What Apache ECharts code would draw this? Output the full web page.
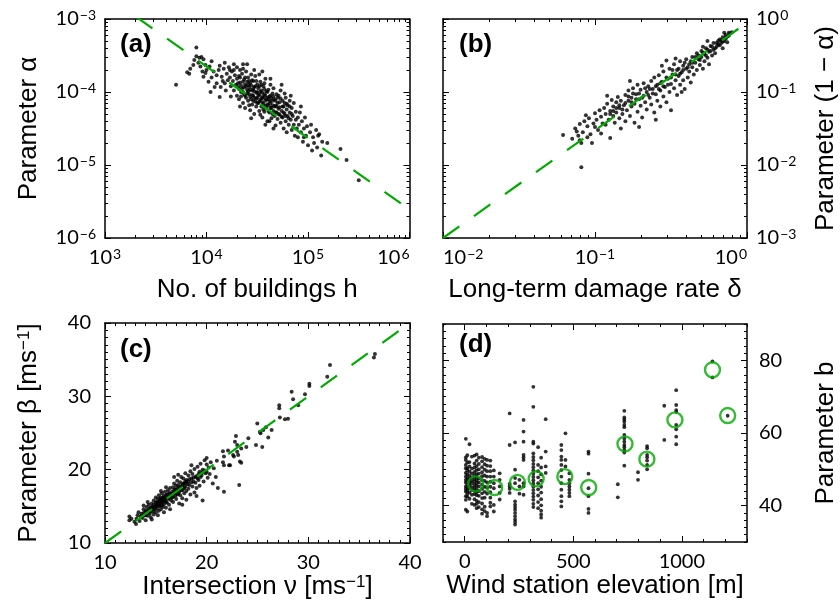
<!DOCTYPE html>
<html>
<head>
<meta charset="utf-8">
<script src="https://cdn.jsdelivr.net/npm/echarts@6/dist/echarts.min.js"></script>
<style>
  html, body { margin: 0; padding: 0; background: #fff; }
  #chart { width: 840px; height: 612px; }
</style>
</head>
<body>
<div id="chart"></div>
<script>
// ---------- data ----------
// (a) log10(number of buildings h), log10(parameter alpha)
const buildingsVsAlphaLog = [
  [3.70,-3.90],[3.90,-3.39],[3.81,-3.73],[3.83,-3.75],[3.84,-3.68],[3.87,-3.63],[3.90,-3.51],[3.93,-3.53],
  [3.95,-3.52],[3.97,-3.55],[3.99,-3.63],[3.94,-3.65],[3.96,-3.72],[3.99,-3.74],[4.00,-3.70],[3.97,-3.79],
  [4.03,-3.65],[4.07,-3.72],[4.10,-3.77],[4.13,-3.64],[4.15,-3.79],[4.14,-3.93],[4.04,-4.00],[4.08,-3.93],
  [4.13,-4.07],[4.18,-3.88],[4.20,-3.75],[4.23,-3.70],[4.21,-3.84],[4.02,-3.86],[3.92,-3.60],[3.88,-3.56],
  [4.05,-3.58],[4.05,-3.80],[4.10,-3.88],[4.12,-3.70],[4.16,-3.85],[4.18,-3.60],[4.19,-3.98],[4.17,-3.68],
  [4.36,-3.62],[4.40,-3.62],[4.33,-3.70],[4.27,-3.70],[4.30,-3.66],
  [4.22,-3.66],[4.23,-3.80],[4.24,-3.92],[4.25,-3.72],[4.26,-3.85],[4.27,-3.98],[4.28,-3.77],[4.29,-3.90],
  [4.30,-4.05],[4.30,-3.82],[4.24,-4.06],[4.27,-3.62],
  [4.31,-3.93],[4.32,-3.78],[4.32,-4.10],[4.33,-3.87],[4.34,-4.00],[4.35,-3.75],[4.35,-3.95],[4.36,-4.15],
  [4.37,-3.83],[4.37,-4.03],[4.38,-3.90],[4.38,-4.22],[4.39,-3.72],[4.39,-4.08],[4.40,-3.97],[4.40,-3.86],
  [4.33,-4.20],[4.36,-3.68],
  [4.41,-4.12],[4.41,-3.80],[4.42,-3.93],[4.42,-4.03],[4.43,-4.25],[4.43,-3.88],[4.44,-3.76],[4.44,-4.10],
  [4.45,-3.98],[4.45,-4.17],[4.46,-3.85],[4.46,-4.05],[4.47,-3.93],[4.47,-4.30],[4.48,-4.13],[4.48,-3.78],
  [4.49,-4.01],[4.49,-4.20],[4.50,-3.90],[4.50,-4.08],[4.44,-4.36],[4.47,-3.70],[4.42,-4.18],[4.46,-3.96],
  [4.51,-4.15],[4.51,-3.95],[4.52,-4.04],[4.52,-4.26],[4.53,-3.86],[4.53,-4.11],[4.54,-4.20],[4.54,-3.98],
  [4.55,-4.07],[4.55,-4.35],[4.56,-3.92],[4.56,-4.16],[4.57,-4.03],[4.57,-4.27],[4.58,-3.82],[4.58,-4.12],
  [4.59,-4.22],[4.59,-3.99],[4.60,-4.08],[4.60,-4.40],[4.52,-3.76],[4.55,-3.72],[4.57,-3.88],[4.53,-4.31],
  [4.58,-4.45],
  [4.61,-4.18],[4.61,-3.97],[4.62,-4.28],[4.62,-4.06],[4.63,-3.90],[4.63,-4.15],[4.64,-4.36],[4.64,-4.22],
  [4.65,-4.02],[4.65,-4.12],[4.66,-4.26],[4.66,-3.95],[4.67,-4.33],[4.67,-4.10],[4.68,-4.19],[4.68,-4.46],
  [4.69,-4.03],[4.69,-4.28],[4.70,-4.15],[4.70,-4.37],[4.63,-3.82],[4.66,-4.50],[4.62,-4.40],
  [4.71,-4.23],[4.71,-4.05],[4.72,-4.31],[4.72,-4.14],[4.73,-4.42],[4.73,-3.98],[4.74,-4.26],[4.75,-4.35],
  [4.75,-4.12],[4.76,-4.20],[4.76,-4.50],[4.77,-4.30],[4.78,-4.40],[4.78,-4.08],[4.79,-4.24],[4.79,-4.55],
  [4.80,-4.33],[4.80,-4.18],[4.74,-3.90],[4.77,-4.02],
  [4.81,-4.45],[4.82,-4.28],[4.82,-4.12],[4.83,-4.38],[4.84,-4.52],[4.84,-4.22],[4.85,-4.33],[4.86,-4.45],
  [4.86,-4.15],[4.87,-4.60],[4.88,-4.38],[4.88,-4.27],[4.89,-4.50],[4.90,-4.35],[4.90,-4.62],[4.83,-4.05],
  [4.91,-4.45],[4.92,-4.28],[4.93,-4.55],[4.94,-4.40],[4.95,-4.68],[4.96,-4.50],[4.97,-4.35],[4.98,-4.60],
  [4.99,-4.47],[5.00,-4.73],[4.93,-4.20],[4.96,-4.62],
  [5.02,-4.55],[5.03,-4.45],[5.05,-4.62],[5.06,-4.70],[5.08,-4.52],[5.10,-4.60],[5.11,-4.58],[5.13,-4.87],
  [5.14,-4.68],[5.04,-4.80],[5.09,-4.76],[5.19,-4.70],
  [5.32,-4.78],[5.38,-4.93],[5.50,-5.21],
  [4.31,-3.88],[4.32,-3.96],[4.33,-3.80],[4.34,-3.91],[4.34,-4.06],[4.36,-3.86],[4.36,-4.00],[4.37,-3.94],
  [4.38,-3.80],[4.38,-4.05],[4.39,-3.92],[4.40,-4.02],[4.41,-3.90],[4.41,-3.99],[4.42,-3.85],[4.43,-4.07],
  [4.43,-3.97],[4.44,-3.91],[4.45,-4.04],[4.45,-3.84],[4.46,-4.12],[4.47,-3.99],[4.47,-4.08],[4.48,-3.92],
  [4.49,-4.09],[4.49,-3.85],[4.50,-4.00],[4.50,-4.15],[4.51,-4.04],[4.52,-3.92],[4.52,-4.13],[4.53,-4.00],
  [4.54,-4.09],[4.54,-3.90],[4.55,-4.14],[4.55,-4.01],[4.56,-4.08],[4.56,-4.24],[4.57,-3.96],[4.58,-4.05],
  [4.58,-4.19],[4.59,-4.10],[4.60,-4.00],[4.60,-4.17],[4.61,-4.10],[4.61,-4.26],[4.62,-4.13],[4.63,-4.05],
  [4.63,-4.22],[4.64,-4.09],[4.65,-4.18],[4.65,-4.30],[4.66,-4.06],[4.67,-4.20],[4.68,-4.12],[4.68,-4.28],
  [4.69,-4.20],[4.70,-4.08],[4.71,-4.30],[4.72,-4.21],[4.73,-4.09],[4.74,-4.34],[4.75,-4.20],[4.76,-4.28],
  [4.77,-4.15],[4.78,-4.33],[4.79,-4.16],[4.81,-4.36],[4.82,-4.20],[4.84,-4.30]
];
// (a) fitted power law, log10 endpoints
const buildingsFitLog = [[3.0,-2.67],[6.0,-5.61]];

// (b) log10(long-term damage rate delta), log10(1 - alpha)
const damageVsOneMinusAlphaLog = [
  [-1.21,-1.59],[-1.15,-1.64],[-1.12,-1.54],[-1.10,-1.44],[-1.09,-1.70],[-1.09,-2.03],[-1.02,-1.70],[-1.13,-1.50],
  [-1.11,-1.60],[-1.08,-1.55],[-1.07,-1.40],[-1.06,-1.32],[-1.05,-1.47],[-1.04,-1.36],[-1.03,-1.58],[-1.01,-1.43],
  [-1.00,-1.29],[-0.99,-1.38],[-0.98,-1.52],[-0.97,-1.25],[-0.96,-1.57],[-0.96,-1.34],[-0.95,-1.43],[-1.05,-1.62],
  [-1.10,-1.66],[-1.00,-1.48],
  [-0.94,-1.22],[-0.93,-1.30],[-0.93,-1.45],[-0.92,-1.16],[-0.91,-1.38],[-0.90,-1.63],[-0.90,-1.26],[-0.89,-1.11],
  [-0.88,-1.33],[-0.88,-1.20],[-0.87,-1.42],[-0.86,-1.14],[-0.86,-1.28],[-0.85,-1.07],[-0.84,-1.36],[-0.84,-1.22],
  [-0.83,-1.50],[-0.83,-1.12],[-0.82,-1.30],[-0.81,-1.18],[-0.80,-1.04],[-0.80,-1.40],[-0.92,-1.05],
  [-0.79,-1.25],[-0.78,-1.12],[-0.78,-0.98],[-0.77,-1.33],[-0.76,-1.08],[-0.76,-1.20],[-0.75,-0.95],[-0.74,-1.16],
  [-0.74,-1.42],[-0.73,-1.03],[-0.72,-1.27],[-0.72,-0.90],[-0.71,-1.10],[-0.70,-1.19],[-0.70,-0.97],[-0.69,-1.35],
  [-0.68,-1.05],[-0.68,-0.88],[-0.67,-1.14],[-0.66,-1.00],[-0.66,-1.24],[-0.65,-0.92],[-0.71,-1.48],[-0.77,-0.85],
  [-0.64,-1.08],[-0.63,-0.85],[-0.63,-1.17],[-0.62,-0.96],[-0.61,-1.28],[-0.61,-0.80],[-0.60,-1.03],[-0.59,-0.90],
  [-0.59,-1.12],[-0.58,-0.77],[-0.57,-0.98],[-0.57,-1.20],[-0.56,-0.86],[-0.55,-1.06],[-0.55,-0.72],[-0.54,-0.93],
  [-0.53,-1.14],[-0.53,-0.57],[-0.52,-0.82],[-0.51,-1.00],[-0.51,-0.68],[-0.50,-0.89],[-0.50,-1.25],[-0.60,-1.38],
  [-0.56,-0.64],
  [-0.49,-0.76],[-0.48,-0.95],[-0.48,-0.62],[-0.47,-0.84],[-0.46,-1.04],[-0.46,-0.70],[-0.45,-0.78],[-0.44,-0.90],
  [-0.44,-0.58],[-0.43,-0.73],[-0.42,-0.84],[-0.42,-0.64],[-0.41,-0.96],[-0.40,-0.68],[-0.40,-0.55],[-0.39,-0.80],
  [-0.38,-0.62],[-0.38,-0.72],[-0.37,-0.87],[-0.36,-0.52],[-0.36,-0.66],[-0.35,-0.76],[-0.43,-1.00],[-0.47,-0.54],
  [-0.34,-0.60],[-0.33,-0.47],[-0.33,-0.70],[-0.32,-0.55],[-0.31,-0.63],[-0.30,-0.44],[-0.30,-0.52],[-0.29,-0.68],
  [-0.28,-0.48],[-0.28,-0.58],[-0.27,-0.40],[-0.26,-0.53],[-0.25,-0.45],[-0.25,-0.62],[-0.24,-0.37],[-0.23,-0.50],
  [-0.22,-0.42],[-0.22,-0.33],[-0.21,-0.47],[-0.20,-0.38],[-0.29,-0.38],[-0.26,-0.30],
  [-0.19,-0.30],[-0.18,-0.36],[-0.18,-0.28],[-0.17,-0.33],[-0.16,-0.25],[-0.16,-0.40],[-0.15,-0.30],[-0.14,-0.22],
  [-0.14,-0.27],[-0.13,-0.24],[-0.12,-0.19],[-0.11,-0.20],[-0.15,-0.19],[-0.13,-0.32],
  [-0.90,-1.30],[-0.88,-1.26],[-0.86,-1.22],[-0.84,-1.18],[-0.82,-1.24],[-0.80,-1.15],[-0.78,-1.06],[-0.76,-1.14],
  [-0.75,-1.02],[-0.73,-1.10],[-0.71,-1.02],[-0.69,-1.08],[-0.67,-0.95],[-0.65,-1.04],[-0.64,-0.96],[-0.62,-1.02],
  [-0.60,-0.92],[-0.58,-0.96],[-0.57,-0.88],[-0.55,-0.92],[-0.53,-0.80],[-0.52,-0.90],[-0.50,-0.80],[-0.49,-0.70],
  [-0.47,-0.76],[-0.45,-0.68],[-0.44,-0.75],[-0.42,-0.70],[-0.41,-0.60],[-0.39,-0.66],[-0.37,-0.58],[-0.36,-0.60],
  [-0.34,-0.52],[-0.32,-0.50],[-0.31,-0.56],[-0.29,-0.46],[-0.27,-0.50],[-0.26,-0.42],[-0.24,-0.44],[-0.23,-0.38],
  [-0.21,-0.40],[-0.20,-0.33],[-0.19,-0.35],[-0.17,-0.29],[-0.16,-0.31],[-0.14,-0.25],[-0.12,-0.23],[-0.10,-0.18]
];
const damageFitLog = [[-2.0,-3.0],[0.0,-0.05]];

// (c) intersection nu [m/s], parameter beta [m/s]
const intersectionVsBeta = [
  [12.4,13.6],[12.4,13.1],[12.9,12.9],[13.1,13.3],[13.2,13.8],[13.05,12.6],[13.4,13.0],[13.5,13.6],[13.3,14.2],[12.6,13.3],
  [13.6,14.0],[13.7,13.4],[13.8,14.6],[13.9,13.8],[14.0,14.3],[14.0,13.1],[14.1,14.9],[14.2,13.7],[14.3,14.5],[14.3,15.2],
  [14.4,14.0],[14.5,14.8],[14.5,13.5],[14.6,15.4],[14.7,14.3],[14.7,14.9],[14.8,15.8],[14.8,13.9],[14.9,14.6],[15.0,15.1],
  [15.0,14.2],[13.8,15.1],[14.2,15.6],[14.6,13.2],[15.0,16.2],
  [15.1,15.6],[15.1,14.7],[15.2,16.0],[15.2,15.2],[15.3,14.4],[15.3,16.5],[15.4,15.7],[15.4,15.0],[15.5,16.2],[15.5,14.6],
  [15.6,15.4],[15.6,16.8],[15.7,15.9],[15.7,14.9],[15.8,16.4],[15.8,15.3],[15.9,17.0],[15.9,15.7],[16.0,16.1],[16.0,14.8],
  [16.1,16.6],[16.1,15.5],[16.2,17.2],[16.2,16.0],[16.3,15.2],[16.3,16.8],[16.4,16.3],[16.4,17.5],[16.5,15.8],[16.5,16.6],
  [15.5,17.1],[16.0,17.6],[15.2,13.8],[15.8,14.2],[16.4,14.6],
  [16.6,17.0],[16.6,16.2],[16.7,17.6],[16.7,15.6],[16.8,16.8],[16.8,18.1],[16.9,16.4],[16.9,17.3],[17.0,17.8],[17.0,16.0],
  [17.1,17.1],[17.1,18.5],[17.2,16.7],[17.2,17.9],[17.3,15.4],[17.3,17.4],[17.4,18.3],[17.4,16.5],[17.5,17.7],[17.5,19.0],
  [17.6,17.2],[17.6,16.1],[17.7,18.1],[17.7,18.8],[17.8,17.5],[17.8,16.8],[17.9,18.4],[17.9,19.5],[18.0,18.6],[18.0,17.1],
  [16.8,19.0],[17.2,19.3],[17.6,15.2],[18.0,15.9],
  [18.1,18.0],[18.2,19.2],[18.2,17.4],[18.3,18.7],[18.4,16.6],[18.4,19.8],[18.5,18.3],[18.6,17.7],[18.6,19.4],[18.7,18.9],
  [18.8,16.9],[18.8,20.1],[18.9,18.2],[19.0,19.1],[19.0,17.5],[19.1,20.4],[19.2,18.6],[19.3,19.7],[19.3,17.8],[19.4,20.8],
  [19.5,19.2],[19.6,15.8],[18.5,20.6],[19.0,16.4],
  [19.6,20.0],[19.7,18.4],[19.8,21.3],[19.9,19.5],[20.0,20.7],[20.0,21.6],[20.1,18.9],[20.2,20.3],[20.3,19.4],[20.4,21.0],
  [20.6,18.1],[20.7,20.2],[20.9,19.0],[21.1,17.5],[21.0,21.2],
  [21.6,22.5],[21.7,21.8],[21.6,21.0],[21.7,20.6],[21.7,17.0],[22.1,22.6],[22.2,20.6],[22.3,20.6],
  [22.68,21.8],[22.78,23.8],[22.88,24.6],[23.0,23.36],[23.0,22.45],[23.1,22.0],[23.27,21.1],[23.4,20.96],[23.4,22.9],
  [23.9,23.1],[23.2,17.9],[22.6,22.0],
  [24.1,24.3],[24.85,23.36],[24.98,26.3],[25.24,25.18],[25.3,24.96],[25.57,25.4],[25.83,25.8],[25.47,23.1],[26.06,24.4],
  [26.39,25.4],[27.14,28.8],[27.14,28.36],[27.2,27.1],[27.7,26.86],[28.0,26.95],[28.36,30.64],[28.5,29.6],[29.0,28.8],
  [29.67,30.3],[30.1,31.7],[30.1,31.4],[31.86,32.68],[32.13,34.27],[36.45,35.3],[36.55,35.77],
  [13.6,13.7],[13.8,14.1],[14.0,13.8],[14.1,14.4],[14.3,14.2],[14.4,14.7],[14.5,14.3],[14.6,14.9],[14.7,14.6],[14.8,15.2],
  [14.9,14.9],[15.0,15.5],[15.1,15.0],[15.2,15.5],[15.3,15.1],[15.4,15.4],[15.4,16.0],[15.5,15.6],[15.6,15.9],[15.6,15.1],
  [15.7,16.2],[15.8,15.7],[15.9,16.2],[16.0,15.6],[16.0,16.5],[16.1,16.2],[16.2,16.5],[16.3,16.1],[16.4,16.7],[16.5,16.2],
  [16.6,16.7],[16.7,16.3],[16.8,17.2],[16.9,16.8],[17.0,17.3],[17.1,16.6],[17.2,17.5],[17.3,17.0],[17.4,17.6],[17.5,17.2],
  [17.6,17.9],[17.7,17.5],[17.8,18.1],[17.9,17.7],[18.0,18.3],[18.2,18.4],[18.3,17.9],[18.5,18.8],[18.7,18.4],[18.9,19.0],
  [19.1,18.8],[19.2,19.4],[19.4,19.0],[19.6,19.6],[19.8,19.9],[20.0,19.7]
];
const intersectionFit = [[10,10],[40,40]];

// (d) wind station elevation [m], parameter b
const elevationVsB = [
  [5,58.4],[5,53.3],[5,52.6],[5,51.2],[5,50.3],[5,49.0],[5,48.0],[5,47.1],[5,46.4],[5,45.3],[5,44.6],[5,43.9],[5,42.6],[5,41.6],[5,38.9],
  [12,53.9],[12,51.9],[12,50.3],[12,49.7],[12,48.6],[12,47.6],[12,46.8],[12,45.9],[12,45.0],[12,44.2],[12,43.3],[12,42.5],[12,38.4],
  [22,56.9],[22,52.0],[22,50.8],[22,49.4],[22,48.2],[22,47.4],[22,46.5],[22,45.6],[22,44.8],[22,43.6],[22,41.9],
  [33,53.5],[33,50.2],[33,48.9],[33,47.8],[33,46.9],[33,46.2],[33,45.1],[33,44.3],[33,43.0],[33,40.5],
  [45,53.8],[45,51.6],[45,50.5],[45,49.3],[45,48.4],[45,47.5],[45,46.7],[45,45.8],[45,45.0],[45,44.1],[45,43.2],[45,41.8],[45,40.2],
  [55,54.1],[55,52.4],[55,50.9],[55,49.8],[55,48.7],[55,47.9],[55,47.0],[55,46.2],[55,45.4],[55,44.5],[55,43.7],[55,42.9],[55,41.3],[55,40.5],[55,39.3],
  [65,53.2],[65,51.5],[65,50.0],[65,48.8],[65,47.5],[65,46.4],[65,45.3],[65,44.0],[65,42.7],[65,41.0],[65,39.6],
  [80,53.4],[80,52.2],[80,50.6],[80,49.2],[80,48.1],[80,47.0],[80,45.8],[80,44.6],[80,43.4],[80,42.1],[80,40.6],[80,39.0],[80,37.8],
  [92,52.9],[92,51.4],[92,49.9],[92,48.3],[92,46.8],[92,45.2],[92,43.8],[92,42.2],[92,39.7],[92,38.5],
  [103,52.6],[103,51.0],[103,49.5],[103,48.0],[103,46.4],[103,44.9],[103,43.3],[103,38.0],[103,37.1],
  [118,52.4],[118,50.9],[118,49.5],[118,48.0],[118,46.6],[118,45.2],[118,43.7],[118,42.2],[118,40.8],[118,39.8],
  [134,49.7],[134,48.0],[134,46.2],[134,44.8],[134,40.2],[134,38.4],
  [161,48.9],[161,47.1],[161,45.3],[161,43.5],[161,41.7],
  [207,65.4],[207,56.7],[207,46.0],[207,45.3],[207,44.6],[207,43.5],
  [232,57.4],[232,49.9],[232,47.6],[232,46.2],[232,41.2],[232,40.3],[232,39.6],[232,38.9],[232,38.0],[232,37.1],[232,36.2],[232,35.5],[232,34.8],
  [252,47.1],[252,45.3],[252,43.3],
  [271,63.6],[271,60.4],[271,57.6],[271,54.0],[271,53.3],[271,52.6],[271,46.2],[271,45.3],[271,43.0],
  [316,72.7],[316,67.2],[316,57.6],[316,57.1],[316,54.4],[316,53.4],[316,52.5],[316,51.5],[316,50.6],[316,49.7],[316,48.8],
  [316,47.9],[316,47.0],[316,46.1],[316,45.2],[316,44.3],[316,43.4],[316,42.5],[316,41.6],[316,40.5],[316,39.6],
  [338,56.1],[338,51.2],[338,49.5],[338,47.8],[338,46.2],[338,44.5],[338,42.8],[338,41.0],[338,39.3],
  [352,53.2],[352,50.5],[352,48.6],[352,46.9],[352,45.2],[352,43.6],[352,41.8],[352,40.1],[352,38.6],[352,37.6],[352,36.7],
  [373,63.8],[373,54.9],[373,50.8],[373,49.0],
  [445,56.7],[445,55.3],[445,53.5],[445,52.6],[445,51.2],[445,49.8],[445,48.0],[445,46.2],[445,44.4],[445,42.6],[445,41.2],[445,39.8],
  [464,59.9],[464,52.6],[464,50.8],
  [482,48.9],[482,47.1],[482,46.2],[482,45.3],[482,44.4],[482,43.5],[482,42.6],
  [570,54.9],[570,54.3],[570,48.8],[570,44.8],[570,42.6],[570,39.1],[570,38.0],
  [705,45.9],[705,42.3],
  [735,66.1],[735,64.3],[735,63.7],[735,63.1],[735,62.2],[735,61.6],[735,59.5],[735,58.5],[735,57.6],[735,56.7],[735,56.1],[735,55.3],[735,54.6],[735,51.0],
  [798,49.2],[798,47.1],
  [840,56.4],[840,55.8],[840,54.0],[840,53.3],[840,52.4],[840,51.2],[840,50.0],
  [919,67.5],[919,58.1],
  [974,71.8],[974,67.7],[974,66.3],[974,65.8],[974,62.2],[974,61.0],[974,59.0],[974,56.9],
  [1141,79.7],[1141,75.3],
  [1211,64.75]
];
// (d) station-group means
const meanElevation = [50, 138, 243, 329, 461, 571, 738, 839, 968, 1141, 1211];
const meanB = [46.0, 45.0, 46.4, 47.4, 48.0, 45.0, 57.0, 52.8, 63.6, 77.4, 64.8];

// tick label lists
const ticksC = [10, 20, 30, 40];
const ticksDx = [0, 500, 1000];
const ticksDy = [40, 60, 80];

// ---------- styling / layout ----------
const GREEN = '#00aa00';
const TICK_FONT = 'Lato, "DejaVu Sans", sans-serif';
const NAME_FONT = '"Liberation Sans", Arial, sans-serif';
const NAME_SIZE = 26;

const grids = [
  { left: 105, top: 19,  width: 304.5, height: 219 },
  { left: 443, top: 19,  width: 305,   height: 219 },
  { left: 105, top: 323, width: 305,   height: 220 },
  { left: 443, top: 324, width: 305,   height: 218 }
];

const fromLog = pts => pts.map(p => [Math.pow(10, p[0]), Math.pow(10, p[1])]);

// minor tick positions of a log axis, in decade units
function logMinor(d0, d1) {
  const out = [];
  for (let d = d0; d < d1; d++) for (let k = 2; k <= 9; k++) out.push(d + Math.log10(k));
  return out;
}
function linMinor(min, max, step, skipEvery) {
  const out = [];
  for (let v = min; v <= max + 1e-9; v += step) {
    const r = Math.round(v * 1000) / 1000;
    if (Math.abs(r % skipEvery) > 1e-6) out.push(r);
  }
  return out;
}
function range(a, b) { const o = []; for (let i = a; i <= b; i++) o.push(i); return o; }

const powRich = {
  m: { fontSize: 20, fontFamily: TICK_FONT, color: '#000', lineHeight: 22 },
  e: { fontSize: 14, fontFamily: TICK_FONT, color: '#000', verticalAlign: 'top', lineHeight: 13, padding: [0, 0, 0, 1] }
};
function powLabel(v) {
  const e = Math.round(Math.log10(v));
  return '{m|10}{e|' + (e < 0 ? '\u2212' + (-e) : String(e)) + '}';
}
const nameStyle = {
  fontFamily: NAME_FONT, fontSize: NAME_SIZE, color: '#000',
  rich: {
    t: { fontFamily: NAME_FONT, fontSize: NAME_SIZE, color: '#000' },
    s: { fontFamily: NAME_FONT, fontSize: 17, color: '#000', verticalAlign: 'top', lineHeight: 16 }
  }
};
const tickLabel = { color: '#000', fontFamily: TICK_FONT, fontSize: 20, formatter: v => String(v) };

const xAxes = [], yAxes = [];
const axisLineStyle = { color: '#000', width: 1.5 };

function mainAxis(list, o) {
  list.push(Object.assign({
    offset: 0,
    axisLine: { show: true, onZero: false, lineStyle: axisLineStyle },
    axisTick: { show: true, inside: true, length: 6, lineStyle: { color: '#000', width: 1 } },
    splitLine: { show: false },
    nameLocation: 'middle',
    nameTextStyle: nameStyle
  }, o));
  return list.length - 1;
}
// frame sides and minor ticks
function tickAxis(list, grid, pos, min, max, values, len, showLine) {
  list.push({
    type: 'value', gridIndex: grid, position: pos, min: min, max: max, offset: 0, silent: true,
    axisLine: { show: showLine, onZero: false, lineStyle: axisLineStyle },
    axisTick: { show: true, inside: true, length: len, customValues: values, lineStyle: { color: '#000', width: 1 } },
    axisLabel: { show: false },
    splitLine: { show: false }
  });
}

// ----- panel (a) -----
const xa = mainAxis(xAxes, {
  type: 'log', logBase: 10, gridIndex: 0, position: 'bottom', min: 1e3, max: 1e6,
  axisLabel: { formatter: powLabel, rich: powRich, margin: 9, alignMinLabel: 'left', alignMaxLabel: 'right' },
  name: 'No. of buildings h', nameGap: 39
});
tickAxis(xAxes, 0, 'bottom', 3, 6, logMinor(3, 6), 3, false);
tickAxis(xAxes, 0, 'top', 3, 6, range(3, 6), 6, true);
tickAxis(xAxes, 0, 'top', 3, 6, logMinor(3, 6), 3, false);
const ya = mainAxis(yAxes, {
  type: 'log', logBase: 10, gridIndex: 0, position: 'left', min: 1e-6, max: 1e-3,
  axisLabel: { formatter: powLabel, rich: powRich, margin: 9 },
  name: 'Parameter \u03b1', nameGap: 63, nameRotate: 90
});
tickAxis(yAxes, 0, 'left', -6, -3, logMinor(-6, -3), 3, false);
tickAxis(yAxes, 0, 'right', -6, -3, range(-6, -3), 6, true);
tickAxis(yAxes, 0, 'right', -6, -3, logMinor(-6, -3), 3, false);

// ----- panel (b) -----
const xb = mainAxis(xAxes, {
  type: 'log', logBase: 10, gridIndex: 1, position: 'bottom', min: 0.01, max: 1,
  axisLabel: { formatter: powLabel, rich: powRich, margin: 9, alignMinLabel: 'left', alignMaxLabel: 'right' },
  name: 'Long-term damage rate \u03b4', nameGap: 39
});
tickAxis(xAxes, 1, 'bottom', -2, 0, logMinor(-2, 0), 3, false);
tickAxis(xAxes, 1, 'top', -2, 0, range(-2, 0), 6, true);
tickAxis(xAxes, 1, 'top', -2, 0, logMinor(-2, 0), 3, false);
const yb = mainAxis(yAxes, {
  type: 'log', logBase: 10, gridIndex: 1, position: 'right', min: 0.001, max: 1,
  axisLabel: { formatter: powLabel, rich: powRich, margin: 9 },
  name: 'Parameter (1 \u2212 \u03b1)', nameGap: 66, nameRotate: 90
});
tickAxis(yAxes, 1, 'right', -3, 0, logMinor(-3, 0), 3, false);
tickAxis(yAxes, 1, 'left', -3, 0, range(-3, 0), 6, true);
tickAxis(yAxes, 1, 'left', -3, 0, logMinor(-3, 0), 3, false);

// ----- panel (c) -----
const xc = mainAxis(xAxes, {
  type: 'value', gridIndex: 2, position: 'bottom', min: 10, max: 40, interval: 10,
  axisLabel: Object.assign({ margin: 10 }, tickLabel),
  name: '{t|Intersection \u03bd [ms}{s|\u22121}{t|]}', nameGap: 31
});
tickAxis(xAxes, 2, 'bottom', 10, 40, linMinor(10, 40, 1, 10), 3, false);
tickAxis(xAxes, 2, 'top', 10, 40, ticksC, 6, true);
tickAxis(xAxes, 2, 'top', 10, 40, linMinor(10, 40, 1, 10), 3, false);
const yc = mainAxis(yAxes, {
  type: 'value', gridIndex: 2, position: 'left', min: 10, max: 40, interval: 10,
  axisLabel: Object.assign({ margin: 14 }, tickLabel),
  name: '{t|Parameter \u03b2 [ms}{s|\u22121}{t|]}', nameGap: 63, nameRotate: 90
});
tickAxis(yAxes, 2, 'left', 10, 40, linMinor(10, 40, 1, 10), 3, false);
tickAxis(yAxes, 2, 'right', 10, 40, ticksC, 6, true);
tickAxis(yAxes, 2, 'right', 10, 40, linMinor(10, 40, 1, 10), 3, false);

// ----- panel (d) -----
const xd = mainAxis(xAxes, {
  type: 'value', gridIndex: 3, position: 'bottom', min: -100, max: 1300,
  axisTick: { show: true, inside: true, length: 6, customValues: ticksDx, lineStyle: { color: '#000', width: 1 } },
  axisLabel: Object.assign({ margin: 10, customValues: ticksDx }, tickLabel),
  name: 'Wind station elevation [m]', nameGap: 31
});
tickAxis(xAxes, 3, 'bottom', -100, 1300, linMinor(-100, 1300, 100, 500), 3, false);
tickAxis(xAxes, 3, 'top', -100, 1300, ticksDx, 6, true);
tickAxis(xAxes, 3, 'top', -100, 1300, linMinor(-100, 1300, 100, 500), 3, false);
const yd = mainAxis(yAxes, {
  type: 'value', gridIndex: 3, position: 'right', min: 30, max: 90,
  axisTick: { show: true, inside: true, length: 6, customValues: ticksDy, lineStyle: { color: '#000', width: 1 } },
  axisLabel: Object.assign({ margin: 12, customValues: ticksDy }, tickLabel),
  name: 'Parameter b', nameGap: 66, nameRotate: 90
});
tickAxis(yAxes, 3, 'right', 30, 90, linMinor(30, 90, 2, 20), 3, false);
tickAxis(yAxes, 3, 'left', 30, 90, ticksDy, 6, true);
tickAxis(yAxes, 3, 'left', 30, 90, linMinor(30, 90, 2, 20), 3, false);

// ---------- series ----------
const dotStyle = { color: '#000' };
const fitLine = { color: GREEN, width: 2.2, type: [20, 18] };
const DOT = 4;

const series = [
  { type: 'scatter', xAxisIndex: xa, yAxisIndex: ya, data: fromLog(buildingsVsAlphaLog), symbolSize: DOT, itemStyle: dotStyle, silent: true },
  { type: 'line', xAxisIndex: xa, yAxisIndex: ya, data: fromLog(buildingsFitLog), symbol: 'none', lineStyle: fitLine, z: 5, silent: true },

  { type: 'scatter', xAxisIndex: xb, yAxisIndex: yb, data: fromLog(damageVsOneMinusAlphaLog), symbolSize: DOT, itemStyle: dotStyle, silent: true },
  { type: 'line', xAxisIndex: xb, yAxisIndex: yb, data: fromLog(damageFitLog), symbol: 'none', lineStyle: fitLine, z: 5, silent: true },

  { type: 'scatter', xAxisIndex: xc, yAxisIndex: yc, data: intersectionVsBeta, symbolSize: DOT, itemStyle: dotStyle, silent: true },
  { type: 'line', xAxisIndex: xc, yAxisIndex: yc, data: intersectionFit, symbol: 'none', lineStyle: fitLine, z: 5, silent: true },

  { type: 'scatter', xAxisIndex: xd, yAxisIndex: yd, data: elevationVsB, symbolSize: 3.8, itemStyle: dotStyle, silent: true },
  { type: 'scatter', xAxisIndex: xd, yAxisIndex: yd, data: meanElevation.map((e, i) => [e, meanB[i]]),
    symbol: 'circle', symbolSize: 15, z: 6, silent: true,
    itemStyle: { color: 'rgba(0,0,0,0)', borderColor: GREEN, borderWidth: 2.4 } }
];

const panelLetter = (text, left, top) => ({
  type: 'text', left: left, top: top, silent: true,
  style: { text: text, font: 'bold 26px "Liberation Sans", Arial, sans-serif', fill: '#000' }
});

const chart = echarts.init(document.getElementById('chart'), null, { renderer: 'canvas' });
chart.setOption({
  animation: false,
  backgroundColor: '#fff',
  grid: grids.map(g => Object.assign({ containLabel: false }, g)),
  xAxis: xAxes,
  yAxis: yAxes,
  series: series,
  graphic: [
    panelLetter('(a)', 120, 32),
    panelLetter('(b)', 459, 32),
    panelLetter('(c)', 120, 337),
    panelLetter('(d)', 459, 332)
  ]
});
</script>
</body>
</html>
